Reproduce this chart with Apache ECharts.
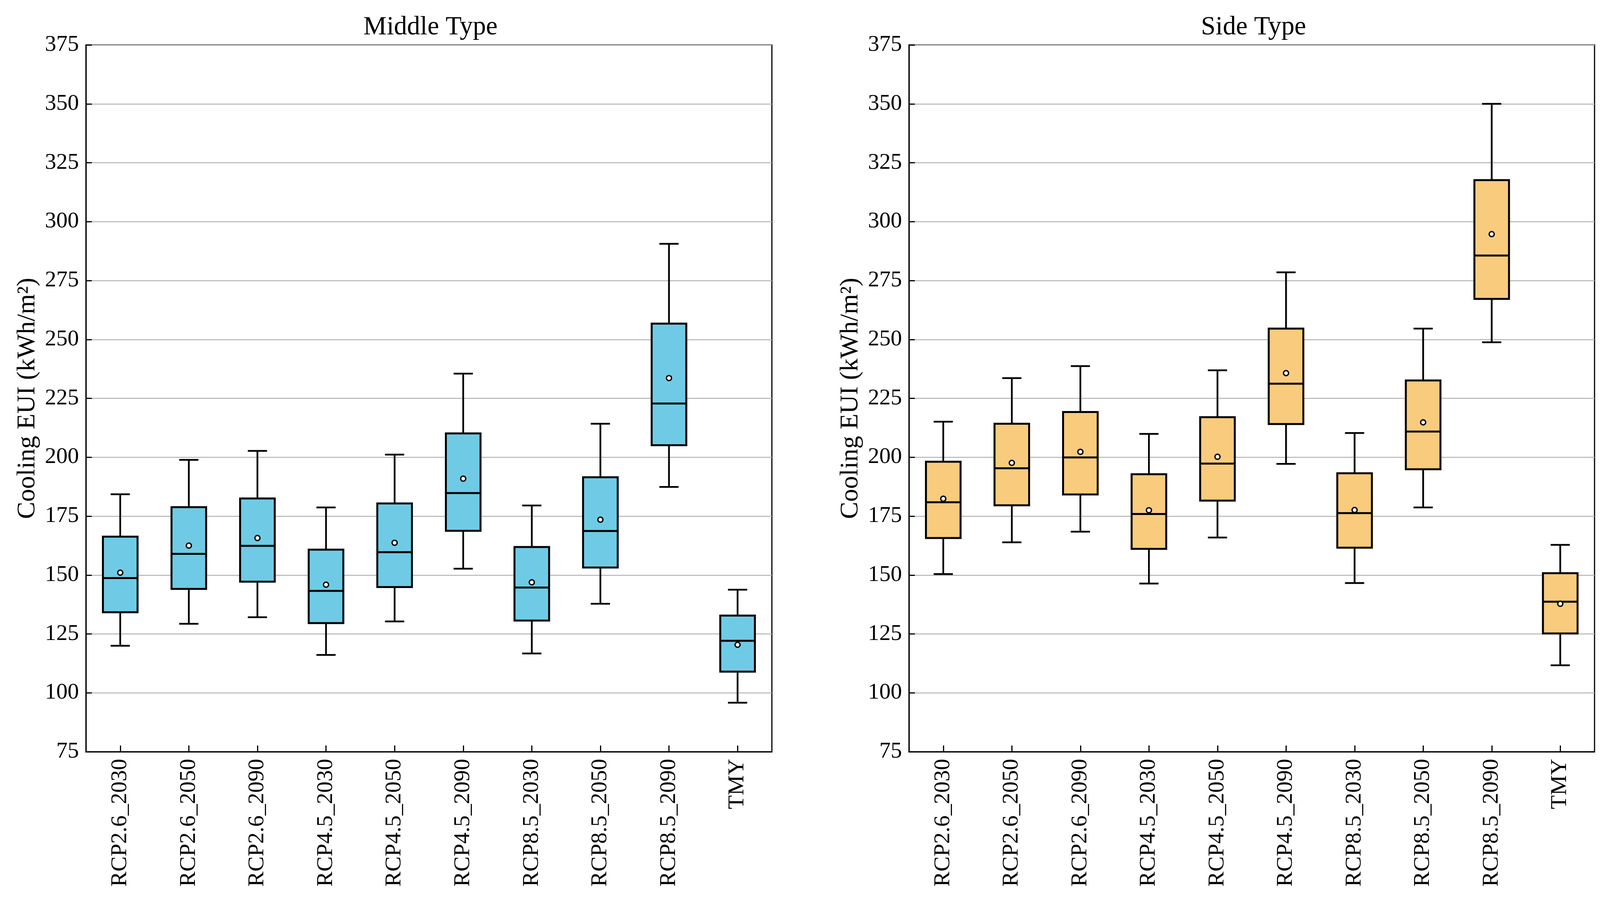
<!DOCTYPE html>
<html>
<head>
<meta charset="utf-8">
<style>
  html, body { margin: 0; padding: 0; background: #ffffff; }
  #chart { width: 4116px; height: 2306px; }
</style>
<script src="https://cdn.jsdelivr.net/npm/echarts@6/dist/echarts.min.js"></script>
</head>
<body>
<div id="chart"></div>
<script>
const categories = ['RCP2.6_2030','RCP2.6_2050','RCP2.6_2090','RCP4.5_2030','RCP4.5_2050','RCP4.5_2090','RCP8.5_2030','RCP8.5_2050','RCP8.5_2090','TMY'];
const yTicks = [75, 100, 125, 150, 175, 200, 225, 250, 275, 300, 325, 350, 375];

// Middle Type
const middleLow    = [120.0, 129.3, 132.1, 116.1, 130.3, 152.7, 116.7, 137.8, 187.4,  95.8];
const middleQ1     = [134.2, 144.1, 147.2, 129.6, 144.9, 168.8, 130.7, 153.2, 205.1, 109.0];
const middleMedian = [148.7, 159.0, 162.4, 143.3, 159.7, 184.8, 144.7, 168.7, 222.8, 122.1];
const middleQ3     = [166.3, 178.8, 182.5, 160.8, 180.4, 210.1, 161.9, 191.5, 256.7, 132.8];
const middleHigh   = [184.3, 198.9, 202.7, 178.7, 201.1, 235.5, 179.5, 214.2, 290.6, 143.8];
const middleMean   = [151.0, 162.5, 165.7, 145.9, 163.7, 190.9, 146.9, 173.5, 233.6, 120.4];

// Side Type
const sideLow    = [150.4, 163.9, 168.4, 146.4, 165.9, 197.2, 146.6, 178.7, 248.8, 111.7];
const sideQ1     = [165.7, 179.6, 184.2, 161.1, 181.6, 214.1, 161.6, 194.9, 267.2, 125.2];
const sideMedian = [180.9, 195.3, 199.9, 175.9, 197.3, 231.2, 176.3, 210.9, 285.6, 138.7];
const sideQ3     = [198.1, 214.2, 219.2, 192.8, 217.0, 254.6, 193.2, 232.6, 317.6, 150.8];
const sideHigh   = [215.1, 233.6, 238.7, 209.9, 236.9, 278.5, 210.3, 254.6, 350.0, 162.8];
const sideMean   = [182.4, 197.6, 202.3, 177.5, 200.2, 235.7, 177.6, 214.8, 294.7, 137.8];

const FONT = 'Liberation Serif, Times New Roman, serif';

function buildData(low, q1, med, q3, high, mean) {
  return categories.map((c, i) => [i, low[i], q1[i], med[i], q3[i], high[i], mean[i]]);
}

function makeRenderer(fillColor) {
  return function (params, api) {
    const x = api.value(0);
    const pLow = api.coord([x, api.value(1)]);
    const pQ1 = api.coord([x, api.value(2)]);
    const pMed = api.coord([x, api.value(3)]);
    const pQ3 = api.coord([x, api.value(4)]);
    const pHigh = api.coord([x, api.value(5)]);
    const pMean = api.coord([x, api.value(6)]);
    const band = api.size([1, 0])[0];
    const bw = band * 0.505;
    const cw = band * 0.28;
    const cx = pLow[0];
    const lineStyle = { stroke: '#000000', lineWidth: 4.5, fill: null };
    return {
      type: 'group',
      children: [
        { type: 'line', shape: { x1: cx, y1: pHigh[1], x2: cx, y2: pQ3[1] }, style: lineStyle },
        { type: 'line', shape: { x1: cx, y1: pQ1[1], x2: cx, y2: pLow[1] }, style: lineStyle },
        { type: 'line', shape: { x1: cx - cw / 2, y1: pHigh[1], x2: cx + cw / 2, y2: pHigh[1] }, style: lineStyle },
        { type: 'line', shape: { x1: cx - cw / 2, y1: pLow[1], x2: cx + cw / 2, y2: pLow[1] }, style: lineStyle },
        { type: 'rect', shape: { x: cx - bw / 2, y: pQ3[1], width: bw, height: pQ1[1] - pQ3[1] },
          style: { fill: fillColor, stroke: '#000000', lineWidth: 5 } },
        { type: 'line', shape: { x1: cx - bw / 2, y1: pMed[1], x2: cx + bw / 2, y2: pMed[1] },
          style: { stroke: '#000000', lineWidth: 5 } },
        { type: 'circle', shape: { cx: pMean[0], cy: pMean[1], r: 6.5 },
          style: { fill: '#ffffff', stroke: '#000000', lineWidth: 3.5 } }
      ]
    };
  };
}

function xAxisDef(gridIndex) {
  return {
    type: 'category',
    gridIndex: gridIndex,
    data: categories,
    axisLine: { show: true, lineStyle: { color: '#000', width: 3 } },
    axisTick: { show: true, inside: true, alignWithLabel: true, length: 16, lineStyle: { color: '#000', width: 3 } },
    axisLabel: { rotate: 90, fontFamily: FONT, fontSize: 58, color: '#000', margin: 18, interval: 0 },
    splitLine: { show: false }
  };
}

function yAxisDef(gridIndex) {
  return {
    type: 'value',
    gridIndex: gridIndex,
    min: yTicks[0],
    max: yTicks[yTicks.length - 1],
    interval: 25,
    name: 'Cooling EUI (kWh/m²)',
    nameLocation: 'middle',
    nameGap: 116,
    nameTextStyle: { fontFamily: FONT, fontSize: 66, color: '#000' },
    axisLine: { show: true, lineStyle: { color: '#000', width: 3 } },
    axisTick: { show: true, inside: true, length: 15, lineStyle: { color: '#000', width: 3 } },
    axisLabel: { fontFamily: FONT, fontSize: 58, color: '#000', margin: 18 },
    splitLine: { show: true, lineStyle: { color: '#b4b4b4', width: 2.5 } }
  };
}

const chart = echarts.init(document.getElementById('chart'), null, { renderer: 'canvas' });
chart.setOption({
  backgroundColor: '#ffffff',
  animation: false,
  title: [
    { text: 'Middle Type', left: 1097, top: 32, textAlign: 'center',
      textStyle: { fontFamily: FONT, fontSize: 67, fontWeight: 'normal', color: '#000' } },
    { text: 'Side Type', left: 3204, top: 32, textAlign: 'center',
      textStyle: { fontFamily: FONT, fontSize: 67, fontWeight: 'normal', color: '#000' } }
  ],
  grid: [
    { left: 220, right: 2140, top: 115, bottom: 382, show: true, borderColor: '#000', borderWidth: 3, backgroundColor: 'transparent' },
    { left: 2327, right: 34, top: 115, bottom: 382, show: true, borderColor: '#000', borderWidth: 3, backgroundColor: 'transparent' }
  ],
  xAxis: [xAxisDef(0), xAxisDef(1)],
  yAxis: [yAxisDef(0), yAxisDef(1)],
  series: [
    {
      type: 'custom',
      name: 'Middle Type',
      xAxisIndex: 0, yAxisIndex: 0,
      renderItem: makeRenderer('#6FCBE5'),
      encode: { x: 0, y: [1, 2, 3, 4, 5, 6] },
      data: buildData(middleLow, middleQ1, middleMedian, middleQ3, middleHigh, middleMean)
    },
    {
      type: 'custom',
      name: 'Side Type',
      xAxisIndex: 1, yAxisIndex: 1,
      renderItem: makeRenderer('#F9CB7C'),
      encode: { x: 0, y: [1, 2, 3, 4, 5, 6] },
      data: buildData(sideLow, sideQ1, sideMedian, sideQ3, sideHigh, sideMean)
    }
  ]
});
</script>
</body>
</html>
